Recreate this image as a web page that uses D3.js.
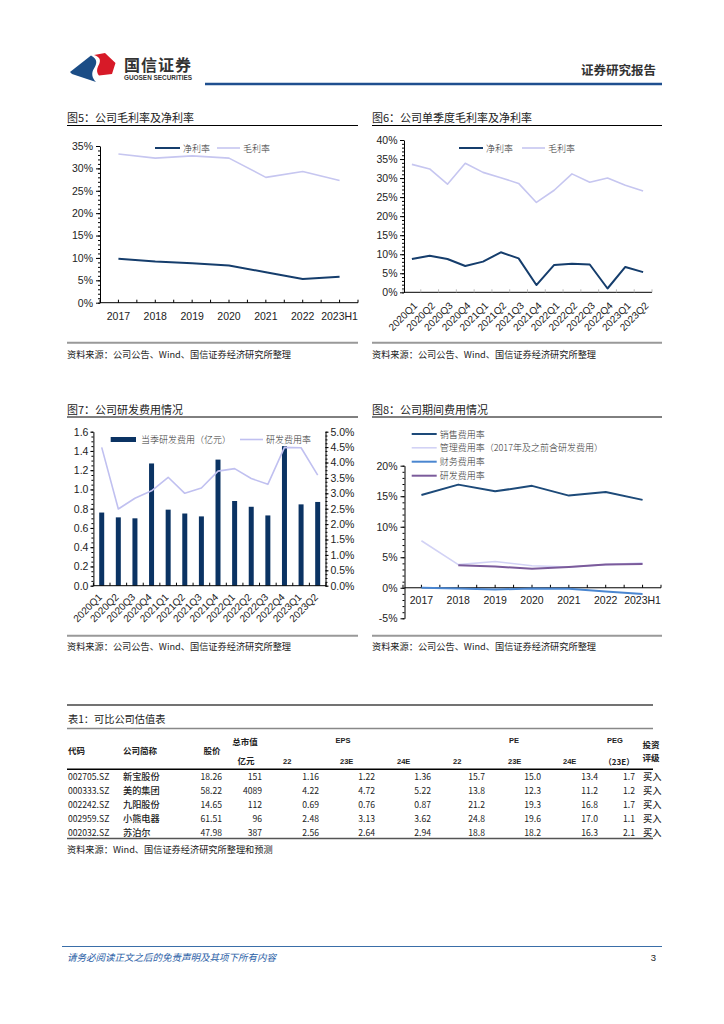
<!DOCTYPE html>
<html><head><meta charset="utf-8">
<script src="https://cdn.jsdelivr.net/npm/d3@7"></script>
<style>
html,body{margin:0;padding:0;background:#fff;}
svg{display:block;}
</style></head><body>
<svg id="page" width="724" height="1024"></svg>
<script>
// ---------------- DATA ----------------
const years = ["2017","2018","2019","2020","2021","2022","2023H1"];
const netMargin   = [9.8, 9.2, 8.8, 8.3, 6.8, 5.3, 5.8];
const grossMargin = [33.2, 32.3, 32.8, 32.3, 28.0, 29.3, 27.3];
const fig5Ticks = [0,5,10,15,20,25,30,35];

const quarters = ["2020Q1","2020Q2","2020Q3","2020Q4","2021Q1","2021Q2","2021Q3","2021Q4","2022Q1","2022Q2","2022Q3","2022Q4","2023Q1","2023Q2"];
const qNetMargin   = [8.75, 9.6, 8.75, 6.9, 8.05, 10.5, 8.9, 1.9, 7.2, 7.5, 7.3, 1.0, 6.65, 5.3];
const qGrossMargin = [33.6, 32.4, 28.4, 33.9, 31.5, 30.1, 28.6, 23.6, 26.8, 31.1, 28.9, 30.0, 28.1, 26.6];
const fig6Ticks = [0,5,10,15,20,25,30,35,40];

const rdExpense = [0.76, 0.71, 0.70, 1.27, 0.79, 0.75, 0.72, 1.31, 0.88, 0.82, 0.73, 1.45, 0.845, 0.87];
const rdRateQ   = [4.49, 2.49, 2.84, 3.08, 3.52, 3.0, 3.17, 3.72, 3.8, 3.48, 3.29, 4.49, 4.48, 3.59];
const fig7LeftTicks  = [0,0.2,0.4,0.6,0.8,1.0,1.2,1.4,1.6];
const fig7RightTicks = [0,0.5,1,1.5,2,2.5,3,3.5,4,4.5,5];

const salesRate = [15.2, 16.9, 15.8, 16.7, 15.1, 15.7, 14.4];
const adminRate = [7.7, 3.8, 4.3, 3.6, 3.4, 3.8, 4.05];
const finRate   = [0.0, -0.1, -0.3, -0.1, -0.15, -0.6, -1.0];
const rdRateY   = [null, 3.7, 3.5, 3.1, 3.4, 3.8, 3.9];
const fig8Ticks = [-5,0,5,10,15,20];
const fig8Legend = ["销售费用率","管理费用率（2017年及之前含研发费用）","财务费用率","研发费用率"];

const tCodes   = ["002705.SZ","000333.SZ","002242.SZ","002959.SZ","002032.SZ"];
const tNames   = ["新宝股份","美的集团","九阳股份","小熊电器","苏泊尔"];
const tPrice   = [18.26, 58.22, 14.65, 61.51, 47.98];
const tCap     = [151, 4089, 112, 96, 387];
const tEps22   = [1.16, 4.22, 0.69, 2.48, 2.56];
const tEps23   = [1.22, 4.72, 0.76, 3.13, 2.64];
const tEps24   = [1.36, 5.22, 0.87, 3.62, 2.94];
const tPe22    = [15.7, 13.8, 21.2, 24.8, 18.8];
const tPe23    = [15.0, 12.3, 19.3, 19.6, 18.2];
const tPe24    = [13.4, 11.2, 16.8, 17.0, 16.3];
const tPeg     = [1.7, 1.2, 1.7, 1.1, 2.1];
const tRating  = ["买入","买入","买入","买入","买入"];

// ---------------- HELPERS ----------------
const CJK = '"Noto Sans CJK SC", sans-serif';
const LAT = '"Liberation Sans", Arial, sans-serif';
const svg = d3.select("#page");
svg.append("rect").attr("width",724).attr("height",1024).attr("fill","#fff");

function text(g, x, y, s, o = {}) {
  return g.append("text").attr("x", x).attr("y", y).text(s)
    .attr("font-family", o.family || CJK)
    .attr("font-size", o.size || 9)
    .attr("font-weight", o.weight || "normal")
    .attr("fill", o.fill || "#222")
    .attr("text-anchor", o.anchor || "start")
    .attr("dominant-baseline", o.base || "central")
    .attr("font-style", o.style || "normal");
}
function hline(g, x1, x2, y, stroke, w) {
  g.append("line").attr("x1",x1).attr("x2",x2).attr("y1",y).attr("y2",y)
    .attr("stroke",stroke).attr("stroke-width",w);
}
function styleAxis(sel, fontSize) {
  sel.selectAll("path.domain").attr("stroke","#000").attr("stroke-width",1);
  sel.selectAll(".tick line").attr("stroke","#000");
  sel.selectAll(".tick text").attr("font-family",LAT).attr("font-size",fontSize).attr("fill","#222");
}
function yAxis(g, y, x, major, minorStep, fmt, side, tick, pad, fs) {
  const mk = side === "left" ? d3.axisLeft : d3.axisRight;
  const [d0, d1] = y.domain();
  const minor = d3.range(d0, d1 + 1e-9, minorStep);
  const gm = g.append("g").attr("transform",`translate(${x},0)`)
    .call(mk(y).tickValues(minor).tickFormat("").tickSizeInner(2).tickSizeOuter(0));
  gm.select("path.domain").remove();
  gm.selectAll(".tick line").attr("stroke","#000");
  const ga = g.append("g").attr("transform",`translate(${x},0)`)
    .call(mk(y).tickValues(major).tickFormat(fmt).tickSizeInner(tick).tickSizeOuter(0).tickPadding(pad));
  styleAxis(ga, fs);
  return ga;
}
function xBandAxis(g, x, yPos, opts) {
  const ga = g.append("g").attr("transform",`translate(0,${yPos})`)
    .call(d3.axisBottom(x).tickSize(0).tickFormat(""));
  ga.select("path.domain").attr("stroke","#000").attr("stroke-width",1)
    .attr("d", `M${opts.axisX0 !== undefined ? opts.axisX0 : x.range()[0]},0H${x.range()[1]}`);
  ga.selectAll(".tick").remove();
  const bw = x.bandwidth();
  const cats = x.domain();
  const pos = [];
  cats.forEach(c => { pos.push(x(c)); if (opts.centerTicks) pos.push(x(c) + bw/2); });
  pos.push(x(cats[cats.length-1]) + bw);
  g.selectAll(null).data(pos).enter().append("line")
    .attr("x1", d => d).attr("x2", d => d)
    .attr("y1", yPos).attr("y2", yPos - (opts.tickLen || 3))
    .attr("stroke", opts.tickColor || "#000").attr("stroke-width",1);
  const lab = g.selectAll(null).data(cats).enter().append("text")
    .text(d => d).attr("font-family",LAT).attr("font-size",opts.fs || 10.5).attr("fill","#222");
  if (opts.rotate) {
    lab.attr("text-anchor","end")
      .attr("transform", d => `translate(${x(d) + bw/2 + opts.dx},${yPos + opts.dy}) rotate(-45)`);
  } else {
    lab.attr("text-anchor","middle").attr("dominant-baseline","central")
      .attr("x", d => x(d) + bw/2).attr("y", yPos + opts.dy);
  }
}
function drawLine(g, x, y, cats, vals, color, w) {
  const bw = x.bandwidth();
  const line = d3.line().defined(v => v != null)
    .x((v, i) => x(cats[i]) + bw/2).y(v => y(v));
  g.append("path").datum(vals).attr("d", line).attr("fill","none")
    .attr("stroke", color).attr("stroke-width", w)
    .attr("stroke-linejoin","round").attr("stroke-linecap","butt");
}
function legendLine(g, x1, x2, yy, color, w, label) {
  g.append("line").attr("x1",x1).attr("x2",x2).attr("y1",yy).attr("y2",yy)
    .attr("stroke",color).attr("stroke-width",w);
  text(g, x2 + 3, yy, label, {size: 9, fill: "#333", weight: 300});
}

const NAVY = "#153d6c", LAV = "#c6c6f0";

// ---------------- HEADER ----------------
const hd = svg.append("g");
hd.append("path").attr("d","M70,72 L91,55.5 C98,59 97,64 94,68.5 C91,73 92,78 96,82 L72,74 Z").attr("fill","#1b4d86");
hd.append("path").attr("d","M94,55 L105,53 L115.5,63 L112,74 L99,75.5 C96,72 97,68 99,64.5 C101,60 100,57 94,55 Z").attr("fill","#d71a28");
text(hd, 124, 63.5, "国信证券", {size: 16, weight: "bold", fill: "#333"}).attr("letter-spacing", "1px");
text(hd, 124, 77.5, "GUOSEN SECURITIES", {size: 7, weight: "bold", fill: "#333", family: LAT}).attr("textLength", 68).attr("lengthAdjust","spacingAndGlyphs");
text(hd, 656, 69, "证券研究报告", {size: 12.5, weight: "bold", fill: "#333", anchor: "end"});
hline(hd, 205, 662, 84, "#1f4f8f", 2.5);

// ---------------- FIG 5 ----------------
{
  const g = svg.append("g");
  text(g, 67, 117, "图5：公司毛利率及净利率", {size: 11});
  hline(g, 67, 358, 125.5, "#000", 1);
  const x = d3.scaleBand().domain(years).range([100, 358]).paddingInner(0);
  const y = d3.scaleLinear().domain([0, 35]).range([302.7, 146]);
  yAxis(g, y, 100, fig5Ticks, 1, d => d + "%", "left", 4, 3, 10.5);
  xBandAxis(g, x, 302.7, {centerTicks: true, dy: 13, fs: 10.5});
  drawLine(g, x, y, years, grossMargin, LAV, 1.6);
  drawLine(g, x, y, years, netMargin, NAVY, 2);
  legendLine(g, 155, 180, 148, NAVY, 2, "净利率");
  legendLine(g, 217, 240, 148, LAV, 1.6, "毛利率");
  hline(g, 67, 358, 342.7, "#999", 2);
  text(g, 67, 353.5, "资料来源：公司公告、Wind、国信证券经济研究所整理", {size: 9.2});
}

// ---------------- FIG 6 ----------------
{
  const g = svg.append("g");
  text(g, 372, 117, "图6：公司单季度毛利率及净利率", {size: 11});
  hline(g, 372, 662, 125.5, "#000", 1);
  const x = d3.scaleBand().domain(quarters).range([403, 652]).paddingInner(0);
  const y = d3.scaleLinear().domain([0, 40]).range([292.3, 140]);
  yAxis(g, y, 404, fig6Ticks, 1, d => d + "%", "left", 4, 2.5, 10.5);
  xBandAxis(g, x, 292.3, {centerTicks: false, rotate: true, dx: 6, dy: 14, fs: 10, tickColor: "#bbb", axisX0: 404});
  drawLine(g, x, y, quarters, qGrossMargin, LAV, 1.6);
  drawLine(g, x, y, quarters, qNetMargin, NAVY, 2);
  legendLine(g, 459, 483, 148, NAVY, 2, "净利率");
  legendLine(g, 522, 545, 148, LAV, 1.6, "毛利率");
  hline(g, 372, 662, 342.7, "#999", 2);
  text(g, 372, 353.5, "资料来源：公司公告、Wind、国信证券经济研究所整理", {size: 9.2});
}

// ---------------- FIG 7 ----------------
{
  const g = svg.append("g");
  text(g, 67, 409, "图7：公司研发费用情况", {size: 11});
  hline(g, 67, 358, 417, "#000", 1);
  const x = d3.scaleBand().domain(quarters).range([93.4, 326]).paddingInner(0);
  const yL = d3.scaleLinear().domain([0, 1.6]).range([585.7, 431.7]);
  const yR = d3.scaleLinear().domain([0, 5]).range([585.7, 431.7]);
  const bw = x.bandwidth(), barW = 5;
  g.selectAll(null).data(rdExpense).enter().append("rect")
    .attr("x", (v, i) => x(quarters[i]) + bw/2 - barW/2)
    .attr("width", barW)
    .attr("y", v => yL(v)).attr("height", v => yL(0) - yL(v))
    .attr("fill", "#0b3363");
  yAxis(g, yL, 93.4, fig7LeftTicks, 0.05, d3.format(".1f"), "left", 3, 2, 10.5);
  yAxis(g, yR, 325.5, fig7RightTicks, 0.125, d => d3.format(".1f")(d) + "%", "right", 3, 2, 10.5);
  xBandAxis(g, x, 585.7, {centerTicks: false, rotate: true, dx: 1, dy: 12, fs: 10});
  drawLine(g, x, yR, quarters, rdRateQ, "#c0c0f0", 1.6);
  g.append("rect").attr("x",110.7).attr("y",437).attr("width",25.3).attr("height",5).attr("fill","#0b3363");
  text(g, 141, 439.5, "当季研发费用（亿元）", {size: 9, fill: "#333", weight: 300});
  legendLine(g, 240, 263, 439.5, "#c0c0f0", 1.6, "研发费用率");
  hline(g, 67, 358, 635.7, "#999", 2);
  text(g, 67, 646, "资料来源：公司公告、Wind、国信证券经济研究所整理", {size: 9.2});
}

// ---------------- FIG 8 ----------------
{
  const g = svg.append("g");
  text(g, 372, 409, "图8：公司期间费用情况", {size: 11});
  hline(g, 372, 662, 417, "#000", 1);
  const x = d3.scaleBand().domain(years).range([403, 661]).paddingInner(0);
  const y = d3.scaleLinear().domain([-5, 20]).range([618.3, 465.7]);
  yAxis(g, y, 404.5, fig8Ticks, 1, d => d + "%", "left", 4, 3, 10.5);
  xBandAxis(g, x, y(0), {centerTicks: true, dy: 12, fs: 10.5, axisX0: 404.5});
  const cols = ["#1d4a79", "#d2d2f5", "#4a86d0", "#7b5b9b"];
  const series = [salesRate, adminRate, finRate, rdRateY];
  const widths = [2, 1.6, 2, 2];
  [1, 3, 2, 0].forEach(k => drawLine(g, x, y, years, series[k], cols[k], widths[k]));
  const ly = [434, 447.8, 461.7, 475.7];
  fig8Legend.forEach((lab, k) => legendLine(g, 411.7, 436.7, ly[k], cols[k], widths[k], lab));
  hline(g, 372, 662, 635.7, "#999", 2);
  text(g, 372, 646, "资料来源：公司公告、Wind、国信证券经济研究所整理", {size: 9.2});
}

// ---------------- TABLE ----------------
{
  const g = svg.append("g");
  const X0 = 67, X1 = 653;
  hline(g, X0, X1, 705, "#444", 1.3);
  text(g, 68, 718, "表1：可比公司估值表", {size: 10.2});
  hline(g, X0, X1, 728.5, "#888", 1.6);
  const H = {size: 8.5, weight: "bold", fill: "#222"};
  text(g, 68, 750, "代码", H);
  text(g, 123, 750, "公司简称", H);
  text(g, 212, 750, "股价", {...H, anchor: "middle"});
  text(g, 245, 740.5, "总市值", {...H, anchor: "middle"});
  text(g, 246, 760, "亿元", {...H, anchor: "middle"});
  text(g, 343, 740.5, "EPS", {...H, anchor: "middle", family: LAT, size: 7.5});
  text(g, 514, 740.5, "PE", {...H, anchor: "middle", family: LAT, size: 7.5});
  text(g, 615, 740.5, "PEG", {...H, anchor: "middle", family: LAT, size: 7.5});
  const sub = [[283,"22"],[340,"23E"],[397,"24E"],[453,"22"],[508,"23E"],[563,"24E"]];
  sub.forEach(([sx, s]) => text(g, sx, 761, s, {...H, family: LAT, size: 7.5}));
  text(g, 619, 761, "（23E）", {...H, anchor: "middle", size: 8});
  text(g, 651, 744, "投资", {...H, anchor: "middle"});
  text(g, 651, 757, "评级", {...H, anchor: "middle"});
  hline(g, X0, X1, 769.3, "#000", 1.6);
  const f2 = d3.format(".2f"), f1 = d3.format(".1f");
  const columns = [
    {vals: tCodes, x: 68, anchor: "start", fmt: d => d},
    {vals: tNames, x: 123, anchor: "start", fmt: d => d},
    {vals: tPrice, x: 222, anchor: "end", fmt: f2},
    {vals: tCap, x: 262, anchor: "end", fmt: d => d},
    {vals: tEps22, x: 319, anchor: "end", fmt: f2},
    {vals: tEps23, x: 375, anchor: "end", fmt: f2},
    {vals: tEps24, x: 431, anchor: "end", fmt: f2},
    {vals: tPe22, x: 485, anchor: "end", fmt: f1},
    {vals: tPe23, x: 541, anchor: "end", fmt: f1},
    {vals: tPe24, x: 598, anchor: "end", fmt: f1},
    {vals: tPeg, x: 635, anchor: "end", fmt: f1},
    {vals: tRating, x: 643, anchor: "start", fmt: d => d}
  ];
  columns.forEach((c, ci) => {
    g.selectAll(null).data(c.vals).enter().append("text")
      .attr("x", c.x).attr("y", (d, i) => 775.5 + 14 * i)
      .attr("text-anchor", c.anchor).attr("dominant-baseline","central")
      .attr("font-family", CJK).attr("font-size", ci === 1 || ci === 11 ? 9.2 : 8.6)
      .attr("font-weight", ci === 1 || ci === 11 ? "500" : "normal")
      .attr("fill","#222").text(c.fmt);
  });
  hline(g, X0, X1, 838.5, "#555", 1.6);
  text(g, 67, 849, "资料来源：Wind、国信证券经济研究所整理和预测", {size: 9.2});
}

// ---------------- FOOTER ----------------
{
  const g = svg.append("g");
  hline(g, 62, 662, 946.5, "#3a6ea8", 1);
  text(g, 67, 957, "请务必阅读正文之后的免责声明及其项下所有内容", {size: 9.5, style: "italic", fill: "#2a5ea6"});
  text(g, 656, 957.5, "3", {size: 9.5, family: LAT, anchor: "end", fill: "#222"});
}
</script>
</body></html>
